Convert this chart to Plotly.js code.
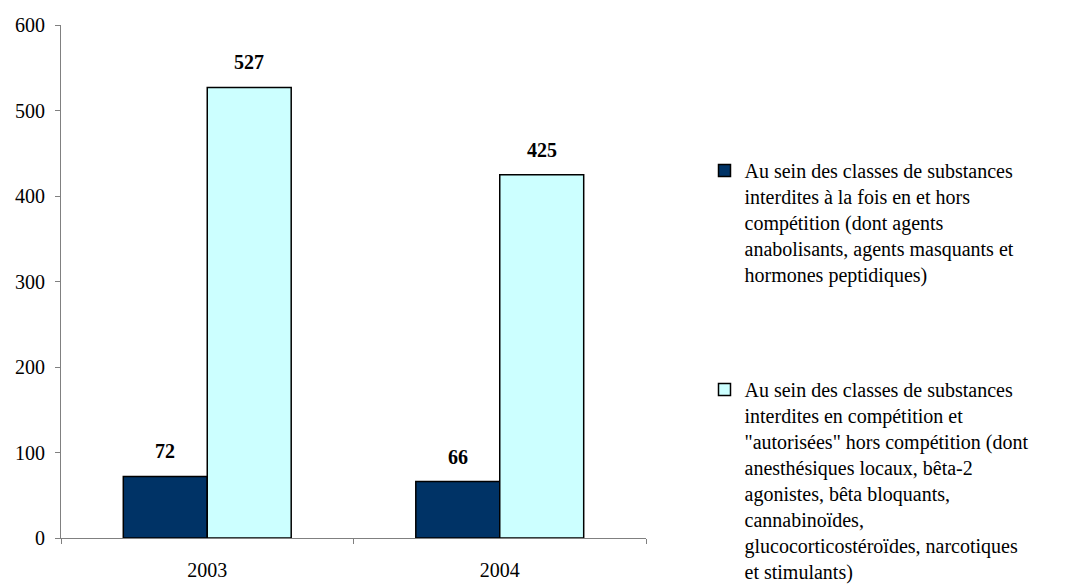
<!DOCTYPE html>
<html>
<head>
<meta charset="utf-8">
<script src="https://cdn.plot.ly/plotly-3.0.1.min.js"></script>
<style>html,body{margin:0;padding:0;background:#fff;}#chart{width:1085px;height:585px;}</style>
</head>
<body>
<div id="chart"></div>
<script>
const years = ["2003", "2004"];
const seriesA = [72, 66];
const seriesB = [527, 425];
const nameA = "Au sein des classes de substances<br>interdites à la fois en et hors<br>compétition (dont agents<br>anabolisants, agents masquants et<br>hormones peptidiques)";
const nameB = "Au sein des classes de substances<br>interdites en compétition et<br>\"autorisées\" hors compétition (dont<br>anesthésiques locaux, bêta-2<br>agonistes, bêta bloquants,<br>cannabinoïdes,<br>glucocorticostéroïdes, narcotiques<br>et stimulants)";
const colorA = "#003366";
const colorB = "#CCFFFF";

const FONT = "Liberation Serif, DejaVu Serif, serif";
const FS = 20;
const bargap = 0.426;
const barW = (1 - bargap) / 2;

const traces = [
  {type: "bar", x: years, y: seriesA, name: nameA, legendgroup: "a",
   marker: {color: colorA, line: {color: "#000", width: 1.5}}},
  {type: "bar", x: years, y: seriesB, name: nameB, legendgroup: "b",
   marker: {color: colorB, line: {color: "#000", width: 1.5}}}
];

const annotations = [];
[seriesA, seriesB].forEach((s, si) => {
  s.forEach((v, i) => {
    annotations.push({
      x: i + (si === 0 ? -barW / 2 : barW / 2), y: v, xref: "x", yref: "y",
      text: "<b>" + v + "</b>", showarrow: false, yanchor: "bottom", yshift: 12,
      font: {family: FONT, size: FS, color: "#000"}
    });
  });
});

const layout = {
  width: 1085, height: 585,
  margin: {l: 61, r: 439, t: 25, b: 47, autoexpand: false},
  paper_bgcolor: "#fff", plot_bgcolor: "#fff",
  font: {family: FONT, size: FS, color: "#000"},
  barmode: "group", bargap: bargap, bargroupgap: 0,
  showlegend: true,
  legend: {x: 1.1, xanchor: "left", y: 0.7545, yanchor: "top",
           valign: "top", tracegroupgap: 86, traceorder: "grouped",
           font: {family: FONT, size: FS, color: "#000"}, bgcolor: "rgba(0,0,0,0)"},
  xaxis: {type: "category", showline: true, linecolor: "#808080", linewidth: 1,
          ticks: "outside", tickson: "boundaries", ticklen: 5, tickcolor: "#808080",
          showgrid: false, zeroline: false, ticklabelstandoff: 14,
          tickfont: {family: FONT, size: FS}, automargin: false},
  yaxis: {range: [0, 600], dtick: 100, tick0: 0, showline: true, linecolor: "#808080",
          linewidth: 1, ticks: "outside", ticklen: 5, tickcolor: "#808080",
          showgrid: false, zeroline: false, ticklabelstandoff: 6,
          tickfont: {family: FONT, size: FS}, automargin: false},
  annotations: annotations
};

Plotly.newPlot("chart", traces, layout, {staticPlot: true, displayModeBar: false});
</script>
</body>
</html>
